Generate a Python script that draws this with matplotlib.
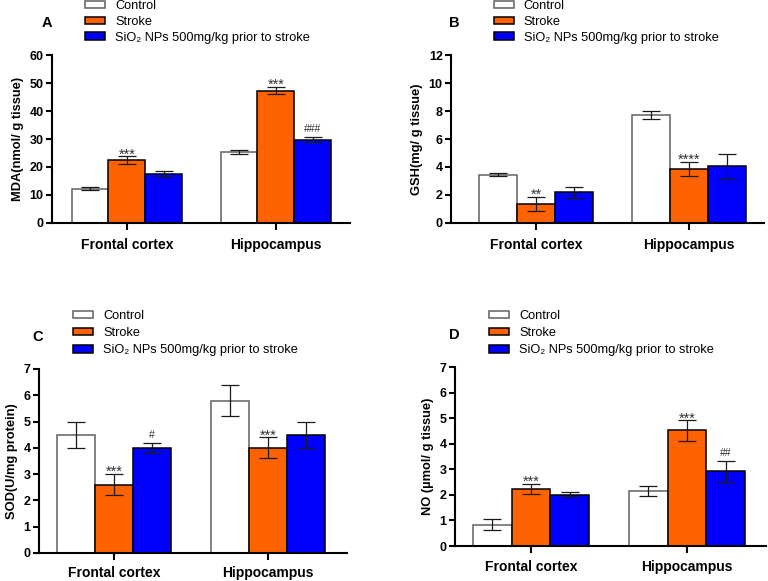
import matplotlib
matplotlib.use("Agg")
import matplotlib.pyplot as plt
import numpy as np

plt.rcParams['font.family'] = ['Liberation Sans', 'DejaVu Sans']

groups = ["Frontal cortex", "Hippocampus"]
series = ["Control", "Stroke", "SiO₂ NPs 500mg/kg prior to stroke"]

# Panel A: MDA
mda_mean = [[12.3, 25.4], [22.4, 47.3], [17.6, 29.8]]
mda_err = [[0.5, 0.8], [1.4, 1.3], [1.0, 0.8]]
mda_sig = [["", ""], ["***", "***"], ["", "###"]]

# Panel B: GSH
gsh_mean = [[3.45, 7.7], [1.35, 3.85], [2.2, 4.05]]
gsh_err = [[0.1, 0.28], [0.5, 0.5], [0.4, 0.9]]
gsh_sig = [["", ""], ["**", "****"], ["", ""]]

# Panel C: SOD
sod_mean = [[4.5, 5.8], [2.6, 4.0], [4.0, 4.5]]
sod_err = [[0.5, 0.6], [0.4, 0.4], [0.2, 0.5]]
sod_sig = [["", ""], ["***", "***"], ["#", ""]]

# Panel D: NO
no_mean = [[0.83, 2.15], [2.22, 4.52], [2.0, 2.92]]
no_err = [[0.21, 0.2], [0.2, 0.4], [0.1, 0.4]]
no_sig = [["", ""], ["***", "***"], ["", "##"]]

colors = ["white", "#FF6200", "#0000FF"]
edges = ["#606060", "black", "black"]

fig = plt.figure(figsize=(7.68, 5.81), dpi=100)

panels = [
    dict(rect=[0.0677, 0.6162, 0.388, 0.2891], xlim=(-0.503, 1.497), ylim=(0, 60), yt=np.arange(0, 61, 10),
         ylabel="MDA(nmol/ g tissue)", mean=mda_mean, err=mda_err, sig=mda_sig, letter="A",
         letter_xy=(0.054, 0.96), leg=(0.111, 1.0), ls=0.3, xpad=6),
    dict(rect=[0.5872, 0.6162, 0.4076, 0.2891], xlim=(-0.556, 1.49), ylim=(0, 12), yt=np.arange(0, 13, 2),
         ylabel="GSH(mg/ g tissue)", mean=gsh_mean, err=gsh_err, sig=gsh_sig, letter="B",
         letter_xy=(0.584, 0.96), leg=(0.643, 1.0), ls=0.3, xpad=6),
    dict(rect=[0.0508, 0.0482, 0.401, 0.3167], xlim=(-0.487, 1.513), ylim=(0, 7), yt=np.arange(0, 8, 1),
         ylabel="SOD(U/mg protein)", mean=sod_mean, err=sod_err, sig=sod_sig, letter="C",
         letter_xy=(0.042, 0.42), leg=(0.095, 0.466), ls=0.4, xpad=4.5),
    dict(rect=[0.5924, 0.0602, 0.405, 0.3081], xlim=(-0.487, 1.506), ylim=(0, 7), yt=np.arange(0, 8, 1),
         ylabel="NO (µmol/ g tissue)", mean=no_mean, err=no_err, sig=no_sig, letter="D",
         letter_xy=(0.584, 0.423), leg=(0.637, 0.466), ls=0.4, xpad=5),
]

w = 0.248
x = np.arange(len(groups))
for p in panels:
    ax = fig.add_axes(p["rect"])
    handles = []
    for i in range(3):
        xs = x + (i - 1) * w
        b = ax.bar(xs, p["mean"][i], width=w, color=colors[i], edgecolor=edges[i], linewidth=1.1,
                   label=series[i], zorder=2)
        handles.append(b)
        ax.errorbar(xs, p["mean"][i], yerr=p["err"][i], fmt="none", ecolor="#1a1a1a",
                    elinewidth=0.9, capsize=6.5, capthick=0.9, zorder=3)
        for j in range(len(groups)):
            s = p["sig"][i][j]
            if s:
                top = p["mean"][i][j] + p["err"][i][j]
                if "*" in s:
                    ax.annotate(s, (xs[j], top), xytext=(0, -1.5), textcoords="offset points",
                                ha="center", va="baseline", fontsize=10.5, color="#333333")
                else:
                    ax.annotate(s, (xs[j], top), xytext=(0, 3.5), textcoords="offset points",
                                ha="center", va="baseline", fontsize=7.5, color="#333333")
    ax.set_xlim(*p["xlim"])
    ax.set_ylim(*p["ylim"])
    ax.set_yticks(p["yt"])
    ax.set_xticks(x)
    ax.set_xticklabels(groups, fontsize=10, fontweight="bold")
    for lab in ax.get_yticklabels():
        lab.set_fontweight("bold")
        lab.set_fontsize(9)
    ax.set_ylabel(p["ylabel"], fontsize=9.3, fontweight="bold", labelpad=4)
    for s in ["top", "right"]:
        ax.spines[s].set_visible(False)
    for s in ["left", "bottom"]:
        ax.spines[s].set_linewidth(1.5)
    ax.tick_params(axis="y", direction="out", length=4, width=1.5, pad=2)
    ax.tick_params(axis="x", direction="out", length=5, width=1.5, pad=p["xpad"])
    fig.text(p["letter_xy"][0], p["letter_xy"][1], p["letter"], fontsize=10.5, fontweight="bold",
             ha="left", va="center")
    fig.legend(handles=handles, loc="upper left", bbox_to_anchor=p["leg"], frameon=False,
               fontsize=9.2, handlelength=1.55, handleheight=0.5, handletextpad=0.8,
               labelspacing=p["ls"], borderpad=0, borderaxespad=0)

fig.savefig("out.png", dpi=100)
